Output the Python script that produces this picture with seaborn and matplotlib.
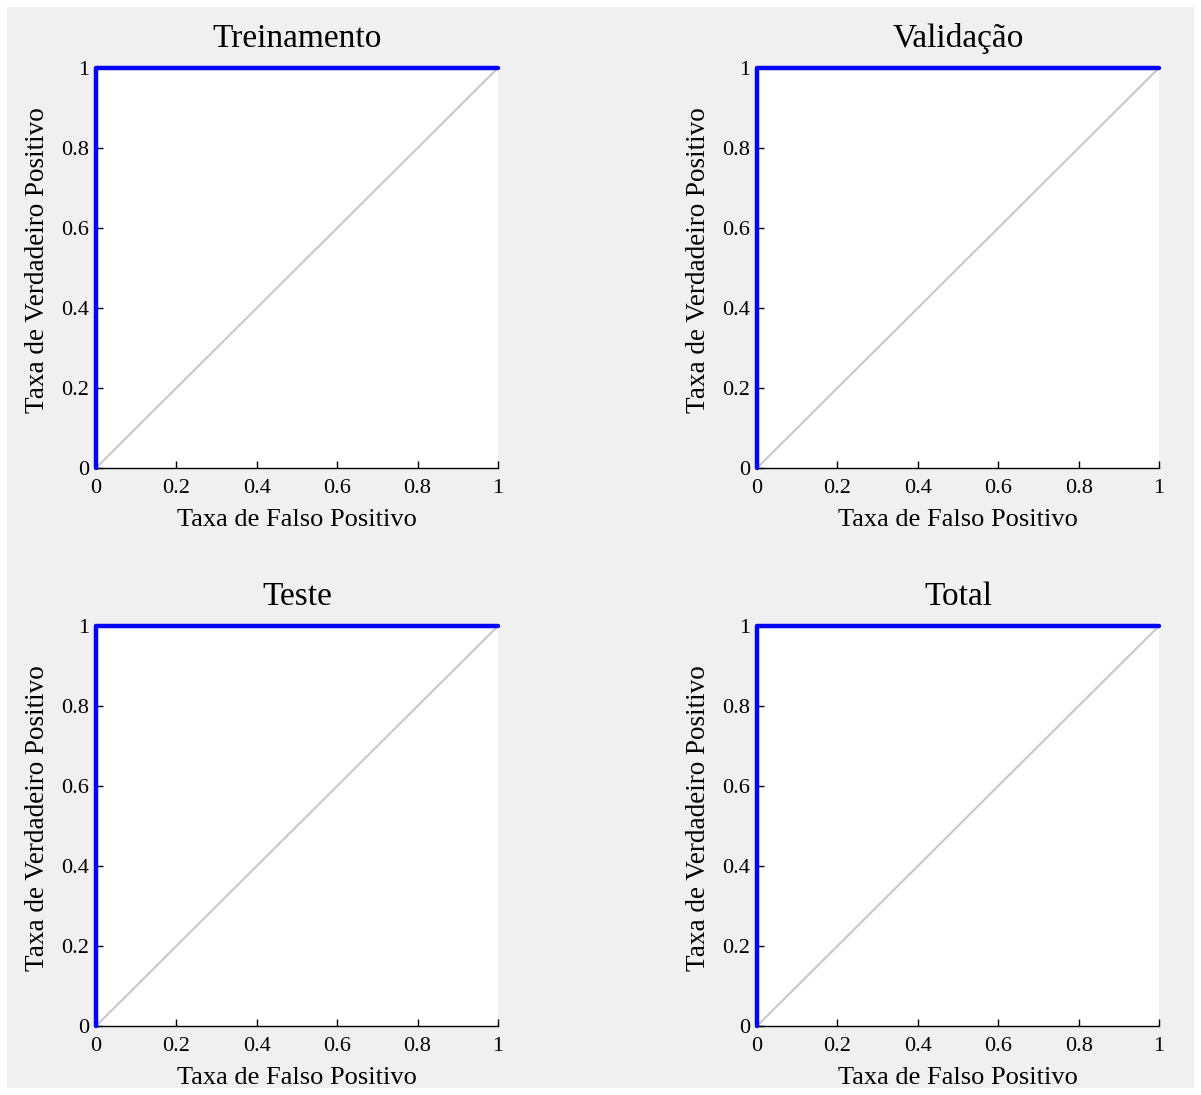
import seaborn as sns
import matplotlib.pyplot as plt
import pandas as pd

titles = ["Treinamento", "Validação", "Teste", "Total"]
# ROC curve points (perfect classifier) for each subset
fpr = [0, 0, 1]
tpr = [0, 1, 1]
diag = [0, 1]
ticks = [0, 0.2, 0.4, 0.6, 0.8, 1]
tick_labels = ["0", "0.2", "0.4", "0.6", "0.8", "1"]

sns.set_style("ticks")
plt.rcParams['font.family'] = ['Liberation Serif', 'DejaVu Serif']
plt.rcParams['text.color'] = 'black'
plt.rcParams['axes.labelcolor'] = 'black'

fig = plt.figure(figsize=(12.01, 10.95), dpi=100, facecolor="#f0f0f0")
fig.patch.set_edgecolor("white")
fig.patch.set_linewidth(10)

lefts = [0.0799, 0.6303]
bottoms = [0.5726, 0.0630]
w, h = 0.3347, 0.3653

for i, title in enumerate(titles):
    ax = fig.add_axes([lefts[i % 2], bottoms[i // 2], w, h])
    ax.set_facecolor("white")
    roc = pd.DataFrame({"fpr": fpr, "tpr": tpr})
    sns.lineplot(x=diag, y=diag, ax=ax, color="#c8c8c8", linewidth=1.5)
    sns.lineplot(data=roc, x="fpr", y="tpr", ax=ax, color="#0000ff",
                 linewidth=3.2, estimator=None, sort=False, clip_on=False, zorder=5)
    ax.set_xlim(0, 1)
    ax.set_ylim(0, 1)
    ax.set_xticks(ticks)
    ax.set_xticklabels(tick_labels)
    ax.set_yticks(ticks)
    ax.set_yticklabels(tick_labels)
    ax.tick_params(direction="in", length=5, width=1, labelsize=16, colors="black")
    ax.tick_params(axis="x", pad=8)
    ax.tick_params(axis="y", pad=5)
    sns.despine(ax=ax)
    for s in ["left", "bottom"]:
        ax.spines[s].set_color("black")
        ax.spines[s].set_linewidth(1)
    ax.set_title(title, fontsize=24, pad=15, color="black")
    ax.set_xlabel("Taxa de Falso Positivo", fontsize=19, labelpad=8)
    ax.set_ylabel("Taxa de Verdadeiro Positivo", fontsize=19.5, labelpad=8)
    ax.yaxis.label.set_y(0.52)

fig.savefig("out.png", dpi=100, facecolor=fig.get_facecolor(), edgecolor="white")
